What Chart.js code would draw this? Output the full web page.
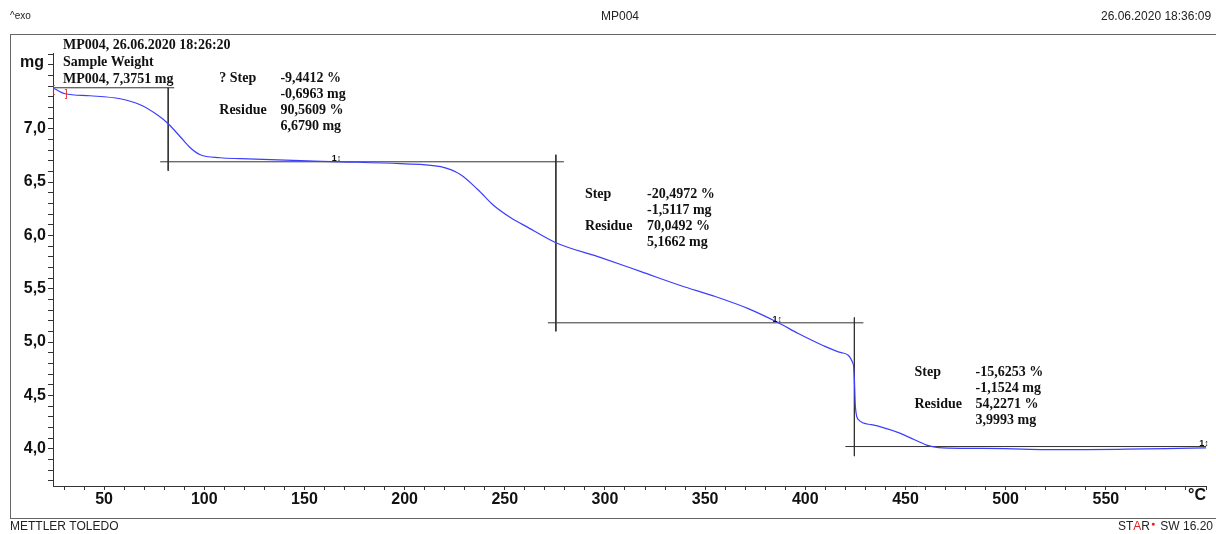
<!DOCTYPE html>
<html>
<head>
<meta charset="utf-8">
<script src="https://cdn.jsdelivr.net/npm/chart.js@4.4.1/dist/chart.umd.min.js"></script>
<style>
  html, body { margin: 0; padding: 0; background: #fff; }
  canvas { display: block; }
</style>
</head>
<body>
<canvas id="tga" width="1216" height="534"></canvas>
<script>
// curva TGA (temperatura em °C, massa em mg)
const temps = [24.5, 25.5, 30.5, 43, 58, 68, 76.5, 82, 88, 93, 98, 108, 118, 148, 168, 198,
  218, 228, 236.5, 244.5, 253, 261.5, 275.5, 298, 318, 338, 354.5, 371.5, 386.5, 396.5,
  408, 418, 424, 424.5, 425, 426.5, 433, 446.5, 454.5, 461.5, 466.5, 480, 500, 520, 540,
  560, 580, 600];
const masses = [7.38, 7.372, 7.328, 7.309, 7.281, 7.225, 7.131, 7.047, 6.925, 6.822, 6.756,
  6.728, 6.719, 6.70, 6.69, 6.672, 6.644, 6.569, 6.43, 6.28, 6.165, 6.075, 5.931, 5.791,
  5.66, 5.528, 5.43, 5.313, 5.181, 5.08, 4.975, 4.90, 4.788, 4.647, 4.394, 4.272, 4.225,
  4.150, 4.084, 4.028, 4.009, 4.003, 4.000, 3.992, 3.992, 3.995, 4.000, 4.008];

// linhas de avaliação dos degraus: [x1, y1, x2, y2]
const stepLines = [
  [24.5, 7.384, 85, 7.384],
  [82, 7.384, 82, 6.606],
  [78, 6.69, 279.5, 6.69],
  [275.5, 6.756, 275.5, 5.10],
  [271.5, 5.18, 429, 5.18],
  [424.5, 5.23, 424.5, 3.93],
  [420, 4.02, 600, 4.02]
];

// textos dos degraus
const stepNames = ['? Step', 'Step', 'Step'];
const stepValues = [
  ['-9,4412 %', '-0,6963 mg', '90,5609 %', '6,6790 mg'],
  ['-20,4972 %', '-1,5117 mg', '70,0492 %', '5,1662 mg'],
  ['-15,6253 %', '-1,1524 mg', '54,2271 %', '3,9993 mg']
];
// posição: [x do rótulo, x dos valores, massa da 1a linha]
const stepAnchors = [[107.5, 138, 7.469], [290, 321, 6.381], [454.5, 485, 4.713]];

const sampleInfo = ['MP004, 26.06.2020 18:26:20', 'Sample Weight', 'MP004, 7,3751 mg'];

// marcadores pequenos no gráfico
const markers = [[166, 6.70], [386, 5.19], [599, 4.03]];

// ticks
const xTicks = [];
for (let t = 30; t <= 600; t += 10) xTicks.push(t);
const yTicks = [];
for (let v = 37; v <= 77; v++) yTicks.push(v / 10);
const xLabels = [50, 100, 150, 200, 250, 300, 350, 400, 450, 500, 550];
const yLabels = [4.0, 4.5, 5.0, 5.5, 6.0, 6.5, 7.0];

const serif = '"Liberation Serif", "Times New Roman", serif';
const sans = '"Liberation Sans", Arial, sans-serif';

const datasets = [{
  data: temps.map((t, i) => ({ x: t, y: masses[i] })),
  borderColor: '#3d3dff',
  borderWidth: 1.2,
  pointRadius: 0,
  cubicInterpolationMode: 'monotone',
  fill: false,
  order: 0
}];
stepLines.forEach(l => {
  datasets.push({
    data: [{ x: l[0], y: l[1] }, { x: l[2], y: l[3] }],
    borderColor: '#333',
    borderWidth: 1,
    pointRadius: 0,
    fill: false,
    order: 1
  });
});

const decor = {
  id: 'decor',
  afterDraw(chart) {
    const ctx = chart.ctx;
    const xs = chart.scales.x, ys = chart.scales.y;
    ctx.save();

    // moldura
    ctx.strokeStyle = '#666';
    ctx.lineWidth = 1;
    ctx.strokeRect(10.5, 34.5, 1220, 484);

    // cabeçalho e rodapé
    ctx.fillStyle = '#222';
    ctx.font = '10px ' + sans;
    ctx.textBaseline = 'middle';
    ctx.textAlign = 'left';
    ctx.fillText('^exo', 10, 16);
    ctx.textAlign = 'center';
    ctx.font = '12px ' + sans;
    ctx.fillText('MP004', 620, 17);
    ctx.textAlign = 'left';
    ctx.fillText('26.06.2020 18:36:09', 1101, 17);
    ctx.fillText('METTLER TOLEDO', 10, 527);

    let px = 1118;
    [['ST', '#222'], ['A', '#e02020'], ['R', '#222']].forEach(p => {
      ctx.fillStyle = p[1];
      ctx.fillText(p[0], px, 527);
      px += ctx.measureText(p[0]).width;
    });
    ctx.fillStyle = '#e02020';
    ctx.font = '7px ' + sans;
    ctx.fillText('●', px + 1, 524);
    px += 7;
    ctx.fillStyle = '#222';
    ctx.font = '12px ' + sans;
    ctx.fillText(' SW 16.20', px, 527);

    // rótulos dos eixos
    ctx.fillStyle = '#111';
    ctx.font = 'bold 16px ' + sans;
    ctx.textAlign = 'left';
    ctx.textBaseline = 'alphabetic';
    ctx.fillText('mg', 20, 67);
    ctx.textAlign = 'center';
    ctx.textBaseline = 'top';
    ctx.fillText('°C', 1197, 488);

    // informação da amostra
    ctx.font = 'bold 14px ' + serif;
    ctx.textAlign = 'left';
    ctx.textBaseline = 'middle';
    sampleInfo.forEach((s, i) => ctx.fillText(s, 63, 45 + i * 17));

    // blocos dos degraus
    stepAnchors.forEach((a, k) => {
      const xl = xs.getPixelForValue(a[0]);
      const xv = xs.getPixelForValue(a[1]);
      const y0 = ys.getPixelForValue(a[2]);
      ctx.fillText(stepNames[k], xl, y0);
      ctx.fillText('Residue', xl, y0 + 32);
      stepValues[k].forEach((v, i) => ctx.fillText(v, xv, y0 + i * 16));
    });

    // marcadores
    ctx.font = 'bold 9px ' + sans;
    ctx.textAlign = 'center';
    markers.forEach(m => {
      ctx.fillText('1↕', xs.getPixelForValue(m[0]), ys.getPixelForValue(m[1]) - 2);
    });
    ctx.fillStyle = '#e02020';
    ctx.font = '10px ' + sans;
    ctx.fillText('[', xs.getPixelForValue(24.8), ys.getPixelForValue(7.36));
    ctx.fillText(']', xs.getPixelForValue(31), ys.getPixelForValue(7.32));

    ctx.restore();
  }
};

new Chart(document.getElementById('tga'), {
  type: 'line',
  data: { datasets },
  options: {
    responsive: false,
    animation: false,
    events: [],
    layout: { padding: { top: 53, right: 10, left: 0, bottom: 0 } },
    plugins: { legend: { display: false }, tooltip: { enabled: false } },
    scales: {
      x: {
        type: 'linear',
        min: 24.5,
        max: 600,
        afterBuildTicks: s => { s.ticks = xTicks.map(v => ({ value: v })); },
        afterFit: s => { s.height = 48; },
        grid: { drawOnChartArea: false, drawTicks: true, tickLength: 4, color: '#333' },
        border: { display: true, color: '#333', width: 1 },
        ticks: {
          autoSkip: false,
          maxRotation: 0,
          padding: 0,
          color: '#111',
          font: { family: sans, size: 16, weight: 'bold' },
          callback: v => (xLabels.includes(v) ? String(v) : '')
        }
      },
      y: {
        min: 3.65,
        max: 7.71,
        afterBuildTicks: s => { s.ticks = yTicks.map(v => ({ value: v })); },
        afterFit: s => { s.width = 53; },
        grid: { drawOnChartArea: false, drawTicks: true, tickLength: 5, color: '#333' },
        border: { display: true, color: '#333', width: 1 },
        ticks: {
          autoSkip: false,
          padding: 2,
          color: '#111',
          font: { family: sans, size: 16, weight: 'bold' },
          callback: v => {
            const hit = yLabels.find(l => Math.abs(l - v) < 1e-6);
            return hit === undefined ? '' : hit.toFixed(1).replace('.', ',');
          }
        }
      }
    }
  },
  plugins: [decor]
});
</script>
</body>
</html>
